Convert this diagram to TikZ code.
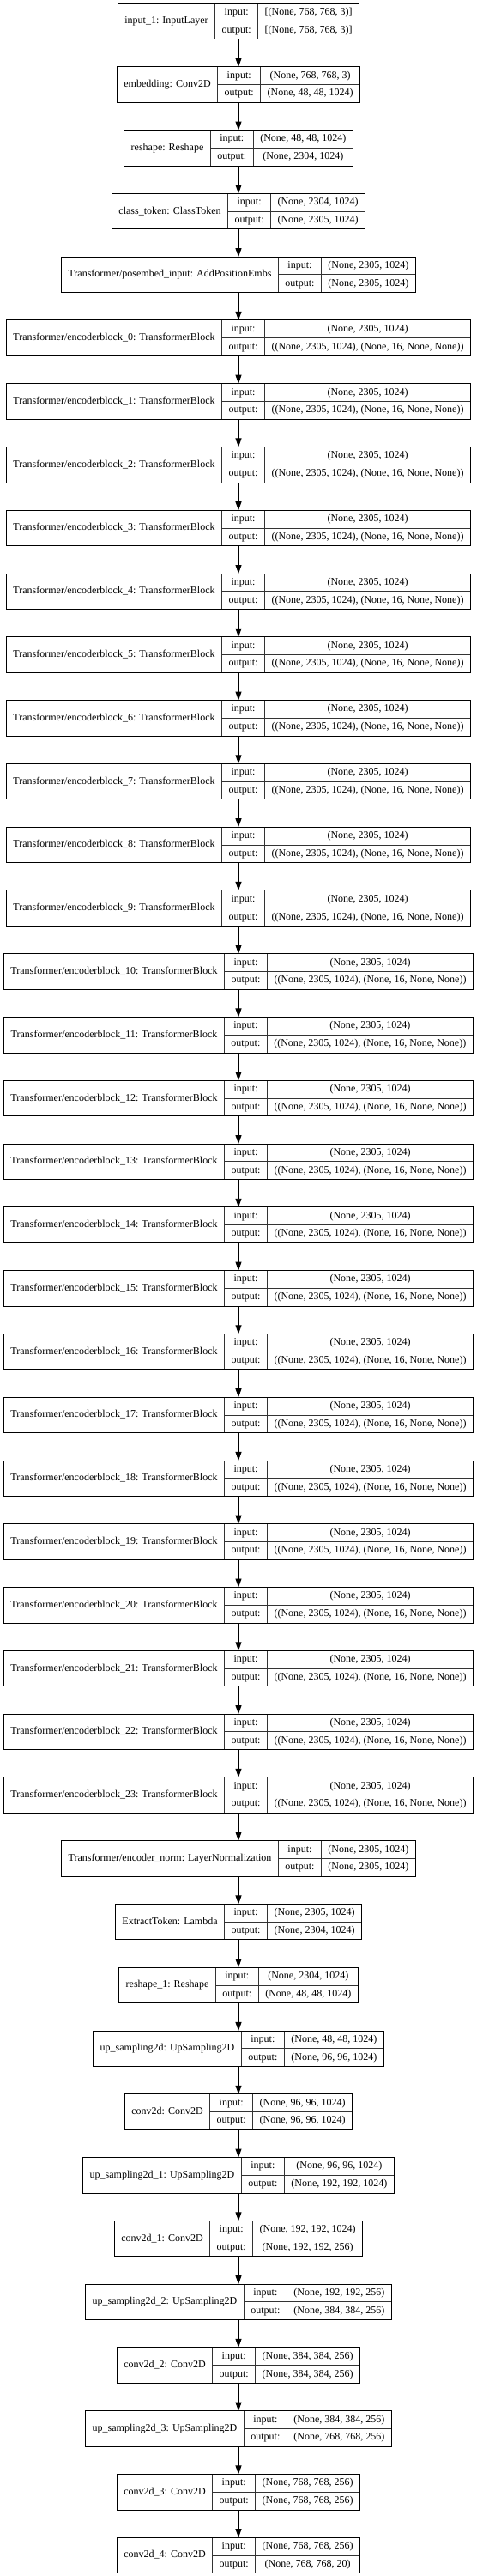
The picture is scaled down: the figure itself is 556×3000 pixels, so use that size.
\documentclass[tikz,border=0pt]{standalone}
\usepackage{fontspec}
\setmainfont{Liberation Serif}
\usetikzlibrary{arrows.meta}
\newlength\lwa \newlength\lwb \newlength\lwc \newlength\lwd
\newcommand\lfont{\fontsize{12}{14}\selectfont}
\tikzset{
  box/.style={draw=black, line width=0.9pt, inner sep=0pt, outer sep=0pt},
  cell/.style={inner sep=0pt, text height=8.6pt, text depth=2.6pt, font=\lfont},
  sep/.style={draw=black!80, line width=0.8pt},
  edge/.style={draw=black, line width=0.9pt, -{Triangle[length=10pt,width=7pt]}}
}
% measuring pass (outside the picture): id, index, name, input, output
\newcommand\measurelayer[5]{%
  \settowidth\lwa{\lfont #3}%
  \settowidth\lwb{\lfont output:}%
  \settowidth\lwc{\lfont #4}%
  \settowidth\lwd{\lfont #5}%
  \pgfmathsetmacro\tmpA{\the\lwa+16}%
  \pgfmathsetmacro\tmpB{\the\lwb+16}%
  \pgfmathsetmacro\tmpC{max(\the\lwc,\the\lwd)+16}%
  \expandafter\xdef\csname cN@#1\endcsname{\tmpA}%
  \expandafter\xdef\csname cL@#1\endcsname{\tmpB}%
  \expandafter\xdef\csname cV@#1\endcsname{\tmpC}%
}
% drawing pass
\newcommand\drawlayer[5]{%
  \expandafter\let\expandafter\cN\csname cN@#1\endcsname
  \expandafter\let\expandafter\cL\csname cL@#1\endcsname
  \expandafter\let\expandafter\cV\csname cV@#1\endcsname
  \pgfmathsetmacro\Wt{\cN+\cL+\cV}%
  \pgfmathsetmacro\xl{278-\Wt/2}%
  \pgfmathsetmacro\yT{4+#2*73.78}%
  \pgfmathsetmacro\xa{\xl+\cN}%
  \pgfmathsetmacro\xb{\xl+\cN+\cL}%
  \pgfmathsetmacro\xr{\xl+\Wt}%
  \pgfmathsetmacro\yM{\yT+20.75}%
  \pgfmathsetmacro\yB{\yT+41.5}%
  \draw[sep] (\xa,\yT) -- (\xa,\yB);
  \draw[sep] (\xb,\yT) -- (\xb,\yB);
  \draw[sep] (\xa,\yM) -- (\xr,\yM);
  \node[box, minimum width=\Wt pt, minimum height=41.5pt, anchor=north west] (#1) at (\xl,\yT) {};
  \node[cell] (#1-name) at ({\xl+\cN/2},\yM) {#3};
  \node[cell] (#1-il) at ({\xa+\cL/2},{\yT+10.375}) {input:};
  \node[cell] (#1-ol) at ({\xa+\cL/2},{\yT+31.125}) {output:};
  \node[cell] (#1-iv) at ({\xb+\cV/2},{\yT+10.375}) {#4};
  \node[cell] (#1-ov) at ({\xb+\cV/2},{\yT+31.125}) {#5};
}
\newcommand\alllayers{%
\layer{inp}{0}{input\_1: InputLayer}{[(None, 768, 768, 3)]}{[(None, 768, 768, 3)]}%
\layer{emb}{1}{embedding: Conv2D}{(None, 768, 768, 3)}{(None, 48, 48, 1024)}%
\layer{resh}{2}{reshape: Reshape}{(None, 48, 48, 1024)}{(None, 2304, 1024)}%
\layer{cls}{3}{class\_token: ClassToken}{(None, 2304, 1024)}{(None, 2305, 1024)}%
\layer{pos}{4}{Transformer/posembed\_input: AddPositionEmbs}{(None, 2305, 1024)}{(None, 2305, 1024)}%
\foreach \k [evaluate=\k as \idx using int(\k+5)] in {0,...,23}{%
  \layer{enc\k}{\idx}{Transformer/encoderblock\_\k: TransformerBlock}{(None, 2305, 1024)}{((None, 2305, 1024), (None, 16, None, None))}%
}%
\layer{norm}{29}{Transformer/encoder\_norm: LayerNormalization}{(None, 2305, 1024)}{(None, 2305, 1024)}%
\layer{ext}{30}{ExtractToken: Lambda}{(None, 2305, 1024)}{(None, 2304, 1024)}%
\layer{reshb}{31}{reshape\_1: Reshape}{(None, 2304, 1024)}{(None, 48, 48, 1024)}%
\layer{upa}{32}{up\_sampling2d: UpSampling2D}{(None, 48, 48, 1024)}{(None, 96, 96, 1024)}%
\layer{cva}{33}{conv2d: Conv2D}{(None, 96, 96, 1024)}{(None, 96, 96, 1024)}%
\layer{upb}{34}{up\_sampling2d\_1: UpSampling2D}{(None, 96, 96, 1024)}{(None, 192, 192, 1024)}%
\layer{cvb}{35}{conv2d\_1: Conv2D}{(None, 192, 192, 1024)}{(None, 192, 192, 256)}%
\layer{upc}{36}{up\_sampling2d\_2: UpSampling2D}{(None, 192, 192, 256)}{(None, 384, 384, 256)}%
\layer{cvc}{37}{conv2d\_2: Conv2D}{(None, 384, 384, 256)}{(None, 384, 384, 256)}%
\layer{upd}{38}{up\_sampling2d\_3: UpSampling2D}{(None, 384, 384, 256)}{(None, 768, 768, 256)}%
\layer{cvd}{39}{conv2d\_3: Conv2D}{(None, 768, 768, 256)}{(None, 768, 768, 256)}%
\layer{cve}{40}{conv2d\_4: Conv2D}{(None, 768, 768, 256)}{(None, 768, 768, 20)}%
}
\begin{document}%
\let\layer\measurelayer\alllayers%
\begin{tikzpicture}[x=1pt,y=-1pt]
\useasboundingbox (0,0) rectangle (556,3000);
\let\layer\drawlayer
\alllayers
\foreach \a/\b in {inp/emb, emb/resh, resh/cls, cls/pos, pos/enc0, enc23/norm, norm/ext, ext/reshb, reshb/upa, upa/cva, cva/upb, upb/cvb, cvb/upc, upc/cvc, cvc/upd, upd/cvd, cvd/cve}
  \draw[edge] (\a.south) -- (\b.north);
\foreach \k [evaluate=\k as \j using int(\k+1)] in {0,...,22}
  \draw[edge] (enc\k.south) -- (enc\j.north);
\end{tikzpicture}%
\end{document}
